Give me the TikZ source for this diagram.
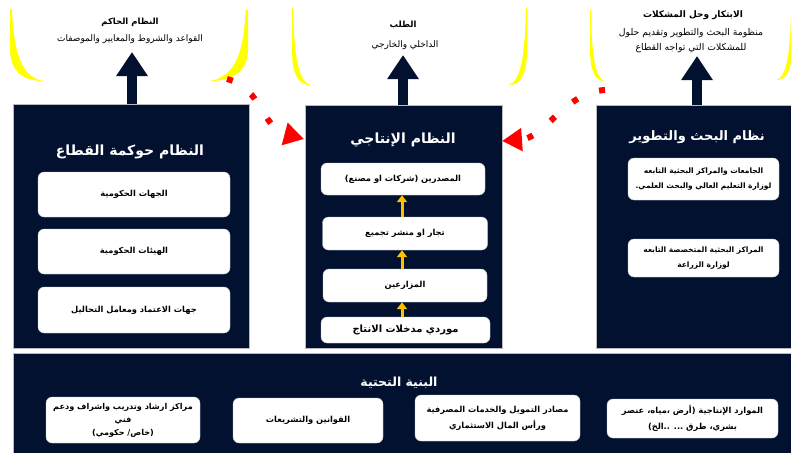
\documentclass[tikz,border=0pt]{standalone}
\usepackage{fontspec}
\newfontfamily\arabicfont[Script=Arabic]{DejaVu Sans}
\TeXXeTstate=1
\usetikzlibrary{arrows.meta}
\definecolor{navy}{RGB}{2,17,48}
\definecolor{gold}{RGB}{255,192,0}
\definecolor{crescent}{RGB}{255,255,0}
\newcommand{\AR}[1]{\beginR #1\endR}
\newcommand{\crescent}[4]{%
  \fill[crescent] (#1,#2) -- (#1,{#2+0.55*(#4-#2)})
    .. controls (#1,{#4-8}) and ({#1+0.45*(#3-#1)},#4) .. (#3,#4)
    .. controls ({#1+0.45*(#3-#1)},{#4-4}) and ({#1+0.12*(#3-#1)},{#4-20}) .. ({#1+0.06*(#3-#1)},#2) -- cycle;}
\tikzset{
  darkbox/.style={fill=navy, draw=gray!55, line width=0.8pt, inner sep=0pt},
  whitebox/.style={fill=white, draw=gray!45, rounded corners=6pt, line width=0.4pt,
    font=\arabicfont\bfseries\fontsize{8.3}{13}\selectfont, align=center, text=black, inner sep=1pt},
  boxtitle/.style={text=white, font=\arabicfont\bfseries\fontsize{14}{16}\selectfont, inner sep=0pt},
  toptitle/.style={text=black, font=\arabicfont\bfseries\fontsize{8.5}{10}\selectfont, inner sep=0pt},
  topbody/.style={text=black, font=\arabicfont\fontsize{9}{15}\selectfont, align=center, inner sep=0pt},
  blockarrow/.style={navy, line width=10pt, -{Triangle[length=24pt,width=30pt]}},
  goldarrow/.style={gold, line width=3pt, -{Triangle[length=7pt,width=10pt]}},
  reddots/.style={red, line width=6pt, dash pattern=on 6pt off 23pt, line cap=butt,
    -{Triangle[length=20pt,width=22pt]}},
}
\begin{document}
\begin{tikzpicture}[x=1pt,y=-1pt]
\useasboundingbox (0,0) rectangle (791,452);
% top boxes (decorative crescents)
\crescent{10}{9}{43}{81}
\crescent{248}{10}{210}{81}
\crescent{292}{8}{310}{85}
\crescent{527}{8}{509}{85}
\crescent{590}{10}{604}{81}
\crescent{792}{10}{777}{80}
% top texts
\node[toptitle] (govtt) at (130,22) {\AR{النظام الحاكم}};
\node[topbody] (govtb) at (130,39) {\AR{القواعد والشروط والمعايير والموصفات}};
\node[toptitle] (demt) at (403,25) {\AR{الطلب}};
\node[topbody] (demb) at (405,45) {\AR{الداخلي والخارجي}};
\node[toptitle, font=\arabicfont\bfseries\fontsize{9}{10}\selectfont] (innt) at (693,15) {\AR{الابتكار وحل المشكلات}};
\node[topbody, font=\arabicfont\fontsize{9.3}{15}\selectfont] (innb) at (691,40.5) {\AR{منظومة البحث والتطوير وتقديم حلول}\\\AR{للمشكلات التي تواجه القطاع}};
% dark boxes
\node[darkbox, minimum width=236pt, minimum height=244pt] (gov) at (131,226) {};
\node[darkbox, minimum width=197pt, minimum height=243pt] (prod) at (403.5,226.5) {};
\node[darkbox, minimum width=197pt, minimum height=243pt] (rnd) at (694.5,226.5) {};
\node[darkbox, minimum width=780pt, minimum height=100pt] (infra) at (403,403) {};
% titles
\node[boxtitle] (govT) at (130,152) {\AR{النظام حوكمة القطاع}};
\node[boxtitle] (prodT) at (403,140) {\AR{النظام الإنتاجي}};
\node[boxtitle, font=\arabicfont\bfseries\fontsize{13}{16}\selectfont] (rndT) at (697,137) {\AR{نظام البحث والتطوير}};
\node[boxtitle, font=\arabicfont\bfseries\fontsize{12.5}{16}\selectfont] (infraT) at (399,383) {\AR{البنية التحتية}};
% governance inner boxes
\node[whitebox, minimum width=192pt, minimum height=45pt] (g1) at (134,194.5) {\AR{الجهات الحكومية}};
\node[whitebox, minimum width=192pt, minimum height=45pt] (g2) at (134,251.5) {\AR{الهيئات الحكومية}};
\node[whitebox, minimum width=192pt, minimum height=46pt] (g3) at (134,310) {\AR{جهات الاعتماد ومعامل التحاليل}};
% production inner boxes
\node[whitebox, minimum width=164pt, minimum height=32pt] (p1) at (403,179) {\AR{المصدرين (شركات او مصنع)}};
\node[whitebox, minimum width=165pt, minimum height=33pt] (p2) at (405,233.5) {\AR{تجار او منشر تجميع}};
\node[whitebox, minimum width=164pt, minimum height=33pt] (p3) at (405,285.5) {\AR{المزارعين}};
\node[whitebox, minimum width=169pt, minimum height=26pt, font=\arabicfont\bfseries\fontsize{10}{11}\selectfont] (p4) at (405.5,330) {\AR{موردي مدخلات الانتاج}};
\draw[goldarrow] (p2.north -| 402,0) -- (p1.south -| 402,0);
\draw[goldarrow] (p3.north -| 402,0) -- (p2.south -| 402,0);
\draw[goldarrow] (p4.north -| 402,0) -- (p3.south -| 402,0);
% research inner boxes
\node[whitebox, minimum width=151pt, minimum height=42pt, font=\arabicfont\bfseries\fontsize{7.5}{15}\selectfont] (r1) at (703.5,179) {\AR{الجامعات والمراكز البحثية التابعه}\\\AR{لوزارة التعليم العالي والبحث العلمي.}};
\node[whitebox, minimum width=151pt, minimum height=38pt, font=\arabicfont\bfseries\fontsize{7.5}{15}\selectfont] (r2) at (703.5,258) {\AR{المراكز البحثية المتخصصة التابعه}\\\AR{لوزارة الزراعة}};
% infrastructure inner boxes
\node[whitebox, minimum width=154pt, minimum height=46pt, font=\arabicfont\bfseries\fontsize{8.1}{13}\selectfont] (i1) at (123,420) {\AR{مراكز ارشاد وتدريب واشراف ودعم}\\\AR{فني}\\\AR{(خاص/ حكومي)}};
\node[whitebox, minimum width=150pt, minimum height=45pt] (i2) at (308,420.5) {\AR{القوانين والتشريعات}};
\node[whitebox, minimum width=165pt, minimum height=46pt, font=\arabicfont\bfseries\fontsize{8.3}{16}\selectfont] (i3) at (497.5,418) {\AR{مصادر التمويل والخدمات المصرفية}\\\AR{ورأس المال الاستثماري}};
\node[whitebox, minimum width=171pt, minimum height=39pt, font=\arabicfont\bfseries\fontsize{8.3}{16}\selectfont] (i4) at (692.5,418.5) {\AR{الموارد الإنتاجية (أرض ،مياه، عنصر}\\\AR{بشري، طرق ... ..الخ)}};
% block arrows
\coordinate (govtip) at (132,52);
\coordinate (demtip) at (403,55);
\coordinate (inntip) at (697,56);
\draw[blockarrow] (gov.north -| govtip) -- (govtip);
\draw[blockarrow] (prod.north -| demtip) -- (demtip);
\draw[blockarrow] (rnd.north -| inntip) -- (inntip);
% red dotted arrows
\coordinate (ls) at (227,79);
\coordinate (le) at (304,139);
\coordinate (rs) at (605,90);
\coordinate (re) at (502,141);
\draw[reddots] (ls) .. controls (262,88) and (262,128) .. (le);
\draw[reddots] (rs) .. controls (565,92) and (545,138) .. (re);
\end{tikzpicture}
\end{document}
